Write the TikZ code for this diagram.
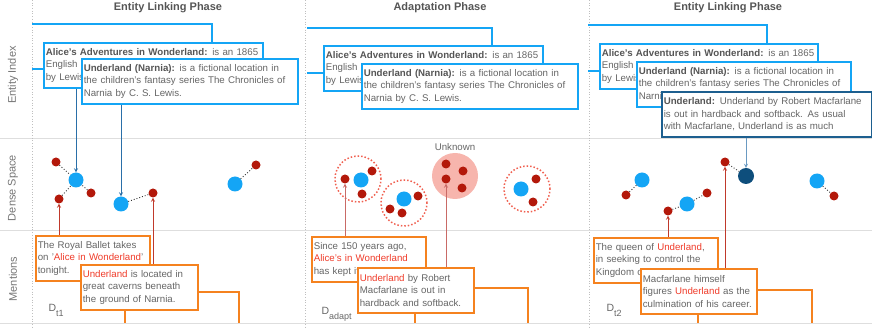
\documentclass[tikz,border=0pt]{standalone}
\usepackage{fontspec}
\setmainfont{Liberation Sans}
\definecolor{lblue}{HTML}{14A5F5}
\definecolor{ablue}{HTML}{2A6FA8}
\definecolor{dblue}{HTML}{0E4E7C}
\definecolor{dborder}{HTML}{1D5F8F}
\definecolor{mred}{HTML}{B3180A}
\definecolor{ared}{HTML}{C0392B}
\definecolor{pred}{HTML}{C96A66}
\definecolor{orng}{HTML}{F5821F}
\definecolor{rtxt}{HTML}{F03C2A}
\definecolor{txtgray}{HTML}{666666}
\definecolor{hgray}{HTML}{555555}
\definecolor{pink}{HTML}{F7B5AD}
\definecolor{dotred}{HTML}{F06050}
\newcommand{\ename}[1]{\textcolor{hgray}{\textbf{#1}}}

\begin{document}
\begin{tikzpicture}[x=1pt,y=-1pt,
  every node/.style={font=\fontsize{9.7}{12.5}\selectfont,text=txtgray},
  ent/.style={circle,fill=lblue,inner sep=0pt,minimum size=15pt},
  ment/.style={circle,fill=mred,inner sep=0pt,minimum size=9pt},
  pair/.style={dotted,line width=0.9pt,black!80},
  idx/.style={draw=lblue,line width=1.6pt,fill=white,anchor=north west,align=left,
    inner xsep=2pt,inner ysep=4pt,minimum height=45pt,text width=#1},
  mbox/.style={draw=orng,line width=1.6pt,fill=white,anchor=north west,align=left,
    inner xsep=2pt,inner ysep=4pt,minimum height=45pt,text width=#1},
  clus/.style={circle,draw=dotred,dotted,line width=1.5pt,minimum size=46pt,inner sep=0pt},
  itree/.style={draw=lblue,line width=1.6pt},
  otree/.style={draw=orng,line width=1.6pt},
  blink/.style={draw=ablue,line width=0.8pt,-stealth},
  rlink/.style={draw=ared,line width=0.8pt,-stealth},
  title/.style={font=\fontsize{11}{13}\selectfont\bfseries,text=hgray},
  row/.style={font=\fontsize{11}{13}\selectfont,text=txtgray!90,rotate=90},
  dlab/.style={font=\fontsize{10.5}{12}\selectfont,anchor=base west}]
\useasboundingbox (0,0) rectangle (872,328);

\draw[black!13,line width=0.8pt] (0,138) -- (872,138);
\draw[black!13,line width=0.8pt] (0,230) -- (872,230);
\draw[black!13,line width=0.8pt] (0,323) -- (872,323);
\foreach \x in {32,305,589}
  \draw[black!25,dotted,line width=0.7pt] (\x,0) -- (\x,328);

\node[row] (r1) at (13,75) {Entity Index};
\node[row] (r2) at (13,188) {Dense Space};
\node[row] (r3) at (13,279) {Mentions};

\node[title] (p1) at (168,8) {Entity Linking Phase};
\node[title] (p2) at (440,8) {Adaptation Phase};
\node[title] (p3) at (728,8) {Entity Linking Phase};

\node[ent] (e11) at (76,180) {};
\node[ent] (e12) at (121,204) {};
\node[ent] (e13) at (235,184) {};
\node[ment] (m11) at (56,162) {};
\node[ment] (m12) at (59,199) {};
\node[ment] (m13) at (91,193) {};
\node[ment] (m14) at (153,193) {};
\node[ment] (m15) at (256,165) {};
\draw[pair] (m11) -- (e11);
\draw[pair] (m12) -- (e11);
\draw[pair] (m13) -- (e11);
\draw[pair] (e12) -- (m14);
\draw[pair] (e13) -- (m15);

\node[clus] (c21) at (358,179) {};
\node[clus] (c22) at (404,203) {};
\node[clus] (c23) at (527,189) {};
\node[circle,fill=pink,minimum size=46pt,inner sep=0pt] (u2) at (455,176) {};
\node (ulab) at (455,147) {Unknown};
\node[ent] (e21) at (361,180) {};
\node[ent] (e22) at (404,199) {};
\node[ent] (e23) at (521,189) {};
\node[ment] (m21) at (345,179) {};
\node[ment] (m22) at (372,171) {};
\node[ment] (m23) at (362,194) {};
\node[ment] (m24) at (418,196) {};
\node[ment] (m25) at (390,209) {};
\node[ment] (m26) at (402,213) {};
\node[ment] (m27) at (446,164) {};
\node[ment] (m28) at (463,171) {};
\node[ment] (m29) at (446,179) {};
\node[ment] (m30) at (462,188) {};
\node[ment] (m31) at (536,179) {};
\node[ment] (m32) at (533,202) {};

\node[ent] (e31) at (642,180) {};
\node[ent] (e32) at (687,204) {};
\node[ent] (e33) at (817,181) {};
\node[circle,fill=dblue,inner sep=0pt,minimum width=15pt,minimum height=16pt] (d3) at (746,176) {};
\node[ment] (m41) at (626,195) {};
\node[ment] (m42) at (668,211) {};
\node[ment] (m43) at (707,193) {};
\node[ment] (m44) at (725,162) {};
\node[ment] (m45) at (834,196) {};
\draw[pair] (m41) -- (e31);
\draw[pair] (m42) -- (e32);
\draw[pair] (e32) -- (m43);
\draw[pair] (m44) -- (d3);
\draw[pair] (e33) -- (m45);

\coordinate (t1) at (32,24);
\coordinate (t1b) at (212,24);
\coordinate (l1) at (32,69);
\coordinate (t2) at (307,28);
\coordinate (t2b) at (492,28);
\coordinate (l2) at (307,73);
\coordinate (t3) at (588,25);
\coordinate (t3b) at (767,25);
\coordinate (l3) at (588,71);

\node[idx=215pt] (alice1) at (43,42) {\ename{Alice's Adventures in Wonderland:} is an 1865\\English novel written\\by Lewis Carroll.};
\node[idx=212pt] (und1) at (81,58) {\ename{Underland (Narnia):} is a fictional location in\\the children’s fantasy series The Chronicles of\\Narnia by C. S. Lewis.};
\draw[itree] (t1) -- (t1b) -- (t1b |- alice1.north);
\draw[itree] (l1) -- (alice1.west |- l1);

\node[idx=215pt] (alice2) at (323,45) {\ename{Alice's Adventures in Wonderland:} is an 1865\\English novel written\\by Lewis Carroll.};
\node[idx=212pt] (und2) at (361,63) {\ename{Underland (Narnia):} is a fictional location in\\the children’s fantasy series The Chronicles of\\Narnia by C. S. Lewis.};
\draw[itree] (t2) -- (t2b) -- (t2b |- alice2.north);
\draw[itree] (l2) -- (alice2.west |- l2);

\node[idx=214pt] (alice3) at (599,43) {\ename{Alice's Adventures in Wonderland:} is an 1865\\English novel written\\by Lewis Carroll.};
\node[idx=210pt] (und3) at (636,61) {\ename{Underland (Narnia):} is a fictional location in\\the children’s fantasy series The Chronicles of\\Narnia by C. S. Lewis.};
\node[idx=206pt,draw=dborder] (mac3) at (661,91) {\ename{Underland:} Underland by Robert Macfarlane\\is out in hardback and softback. As usual\\with Macfarlane, Underland is as much};
\draw[itree] (t3) -- (t3b) -- (t3b |- alice3.north);
\draw[itree] (l3) -- (alice3.west |- l3);

\draw[blink] (e11 |- alice1.south) -- (e11);
\draw[blink] (e12 |- und1.south) -- (e12);
\draw[blink,draw=ablue!70] (d3 |- mac3.south) -- (d3);

\node[mbox=110pt] (m1a) at (35,235) {The Royal Ballet takes\\on '\textcolor{rtxt}{Alice in Wonderland}'\\tonight.};
\node[mbox=113pt] (m1b) at (80,264) {\textcolor{rtxt}{Underland} is located in\\great caverns beneath\\the ground of Narnia.};
\draw[rlink] (m12 |- m1a.north) -- (m12);
\draw[rlink] (m14 |- m1b.north) -- (m14);
\coordinate (f1) at (125,323);
\coordinate (g1) at (239,292);
\draw[otree] (f1 |- m1b.south) -- (f1);
\draw[otree] (m1b.east |- g1) -- (g1) -- (g1 |- f1);
\node[dlab] (dt1) at (45,312) {D\raisebox{-5pt}{\fontsize{9}{9}\selectfont t1}};

\node[mbox=110pt] (m2a) at (311,236) {Since 150 years ago,\\\textcolor{rtxt}{Alice's in Wonderland}\\has kept its charm.};
\node[mbox=112pt] (m2b) at (357,267) {\textcolor{rtxt}{Underland} by Robert\\Macfarlane is out in\\hardback and softback.};
\draw[rlink,draw=pred] (m21 |- m2a.north) -- (m21);
\draw[rlink,draw=pred] (m29 |- m2b.north) -- (m29);
\coordinate (f2) at (415,323);
\coordinate (g2) at (528,288);
\draw[otree] (f2 |- m2b.south) -- (f2);
\draw[otree] (m2b.east |- g2) -- (g2) -- (g2 |- f2);
\node[dlab] (dt2) at (318,315) {D\raisebox{-5pt}{\fontsize{9}{9}\selectfont adapt}};

\node[mbox=120pt] (m3a) at (593,237) {The queen of \textcolor{rtxt}{Underland},\\in seeking to control the\\Kingdom of Narnia};
\node[mbox=112pt] (m3b) at (640,268) {Macfarlane himself\\figures \textcolor{rtxt}{Underland} as the\\culmination of his career.};
\draw[rlink] (m42 |- m3a.north) -- (m42);
\draw[rlink] (m44 |- m3b.north) -- (m44);
\coordinate (f3) at (698,323);
\coordinate (g3) at (812,290);
\draw[otree] (f3 |- m3b.south) -- (f3);
\draw[otree] (m3b.east |- g3) -- (g3) -- (g3 |- f3);
\node[dlab] (dt3) at (603,312) {D\raisebox{-5pt}{\fontsize{9}{9}\selectfont t2}};
\end{tikzpicture}
\end{document}
